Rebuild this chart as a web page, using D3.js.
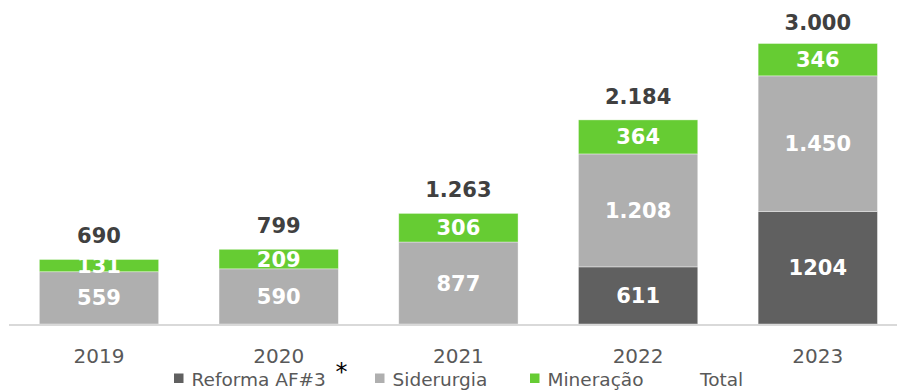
<!DOCTYPE html>
<html>
<head>
<meta charset="utf-8">
<script src="https://cdn.jsdelivr.net/npm/d3@7"></script>
<style>
  html, body { margin: 0; padding: 0; background: #fff; }
  svg { display: block; font-family: "DejaVu Sans", Verdana, sans-serif; }
</style>
</head>
<body>
<svg id="chart" width="897" height="391"></svg>
<script>
// Investment per year, stacked by area
const years = ["2019", "2020", "2021", "2022", "2023"];
const reforma = [0, 0, 0, 611, 1204];
const siderurgia = [559, 590, 877, 1208, 1450];
const mineracao = [131, 209, 306, 364, 346];
const totals = [690, 799, 1263, 2184, 3000];
const seriesNames = ["Reforma AF#3", "Siderurgia", "Mineração", "Total"];
const seriesColors = ["#606060", "#afafaf", "#66cc33", "none"];

// pt-BR style number labels: "1.450", "3.000"; the 1204 label is shown without separator
const fmtDot = d3.formatLocale({ decimal: ",", thousands: ".", grouping: [3], currency: ["R$", ""] }).format(",d");
const labelFormats = [d => String(d), fmtDot, fmtDot];

const svg = d3.select("#chart");
const W = 897, H = 391;
const baseY = 324, topY = 43.5;

const x = d3.scaleBand()
  .domain(years)
  .range([9.15, 907.65])
  .paddingInner(0.336)
  .paddingOuter(0.168);

const y = d3.scaleLinear()
  .domain([0, 3000])
  .range([baseY, topY]);

const rows = years.map((yr, i) => ({
  year: yr, reforma: reforma[i], siderurgia: siderurgia[i], mineracao: mineracao[i]
}));
const keys = ["reforma", "siderurgia", "mineracao"];
const stacked = d3.stack().keys(keys)(rows);

// stacked segments
const layers = svg.append("g").selectAll("g")
  .data(stacked)
  .join("g")
  .attr("fill", (d, i) => seriesColors[i]);

layers.selectAll("rect")
  .data(d => d.filter(s => s[1] - s[0] > 0))
  .join("rect")
  .attr("x", d => x(d.data.year))
  .attr("width", x.bandwidth())
  .attr("y", d => y(d[1]))
  .attr("height", d => y(d[0]) - y(d[1]))
  .attr("stroke", "#ffffff")
  .attr("stroke-opacity", 0.5)
  .attr("stroke-width", 0.75);

// value labels inside segments
const labelLayers = svg.append("g").selectAll("g")
  .data(stacked)
  .join("g");

labelLayers.each(function(layer, li) {
  d3.select(this).selectAll("text")
    .data(layer.filter(s => s[1] - s[0] > 0))
    .join("text")
    .attr("x", d => x(d.data.year) + x.bandwidth() / 2)
    .attr("y", d => (y(d[0]) + y(d[1])) / 2)
    .attr("dy", "0.36em")
    .attr("text-anchor", "middle")
    .attr("fill", "#ffffff")
    .attr("font-weight", "bold")
    .attr("font-size", 21)
    .text(d => labelFormats[li](d[1] - d[0]));
});

// totals above each bar
const stackTop = years.map((yr, i) => reforma[i] + siderurgia[i] + mineracao[i]);
svg.append("g").selectAll("text")
  .data(years)
  .join("text")
  .attr("x", d => x(d) + x.bandwidth() / 2)
  .attr("y", (d, i) => Math.max(y(stackTop[i]) - 16, 30))
  .attr("text-anchor", "middle")
  .attr("fill", "#404040")
  .attr("font-weight", "bold")
  .attr("font-size", 21)
  .text((d, i) => fmtDot(totals[i]));

// category axis
svg.append("line")
  .attr("x1", 9).attr("x2", W)
  .attr("y1", baseY + 1).attr("y2", baseY + 1)
  .attr("stroke", "#d9d9d9")
  .attr("stroke-width", 2);

const xAxis = svg.append("g")
  .attr("transform", `translate(0,${baseY + 1})`)
  .call(d3.axisBottom(x).tickSize(0).tickPadding(0));
xAxis.select(".domain").remove();
xAxis.selectAll("text")
  .attr("y", 37.5)
  .attr("dy", null)
  .attr("font-family", "'DejaVu Sans', Verdana, sans-serif")
  .attr("font-size", 20)
  .attr("fill", "#595959");

// legend
const legendX = [174, 375, 530, 684];
const legendBaseline = 386;
const legend = svg.append("g");
const items = legend.selectAll("g")
  .data(seriesNames)
  .join("g")
  .attr("transform", (d, i) => `translate(${legendX[i]},0)`);
items.append("rect")
  .attr("x", 0)
  .attr("y", legendBaseline - 12.5)
  .attr("width", 9.5)
  .attr("height", 9.5)
  .attr("fill", (d, i) => seriesColors[i] === "none" ? "#ffffff" : seriesColors[i]);
items.append("text")
  .attr("x", (d, i) => i === 3 ? 16 : 17.5)
  .attr("y", legendBaseline)
  .attr("font-size", 18.5)
  .attr("fill", "#595959")
  .text(d => d);

// footnote asterisk on the Reforma entry
legend.append("text")
  .attr("x", 341.5)
  .attr("y", 380)
  .attr("text-anchor", "middle")
  .attr("font-size", 24)
  .attr("fill", "#000000")
  .text("*");
</script>
</body>
</html>
